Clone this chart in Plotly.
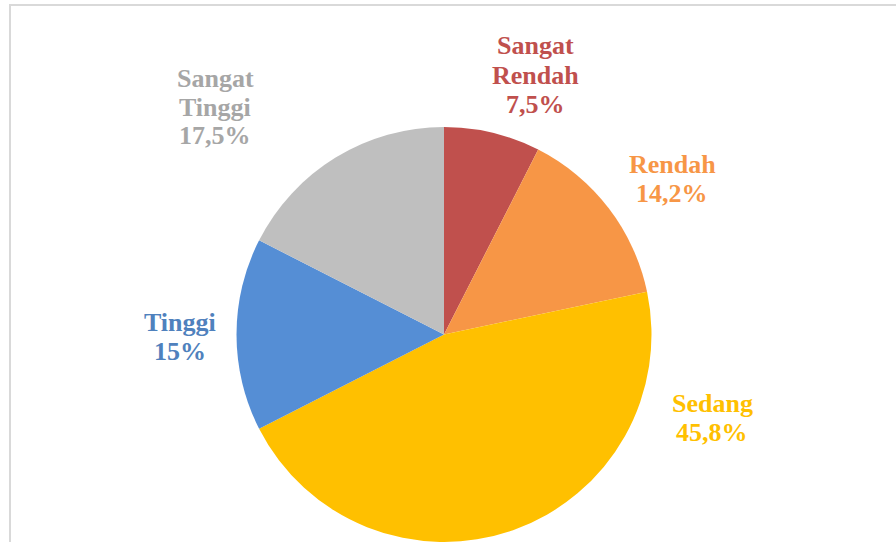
import plotly.graph_objects as go

# Category shares (percent), listed clockwise from 12 o'clock
categories = ["Sangat Rendah", "Rendah", "Sedang", "Tinggi", "Sangat Tinggi"]
shares = [7.5, 14.2, 45.8, 15, 17.5]

slice_colors = ["#C0504D", "#F79646", "#FFC000", "#558ED5", "#BFBFBF"]
label_colors = ["#C0504D", "#F79646", "#FFC000", "#4F81BD", "#A6A6A6"]

W, H = 896, 542
LINE_GAP = 29  # px between label lines

fig = go.Figure(
    go.Pie(
        labels=categories,
        values=shares,
        sort=False,
        direction="clockwise",
        rotation=0,
        marker=dict(colors=slice_colors, line=dict(width=0)),
        textinfo="none",
        hoverinfo="label+percent",
        showlegend=False,
        domain=dict(x=[236 / W, 652 / W], y=[0, (H - 127) / H]),
    )
)

# Label block centres in pixels (x, y from top)
label_pos = [(535, 75), (672, 179), (712, 418), (180, 337), (215, 107)]


def fmt(v):
    return f"{v:g}".replace(".", ",") + "%"


for name, val, col, (px, py) in zip(categories, shares, label_colors, label_pos):
    lines = name.split(" ") + [fmt(val)]
    n = len(lines)
    for i, line in enumerate(lines):
        ly = py + (i - (n - 1) / 2) * LINE_GAP
        fig.add_annotation(
            x=px / W,
            y=1 - ly / H,
            xref="paper",
            yref="paper",
            text=f"<b>{line}</b>",
            showarrow=False,
            xanchor="center",
            yanchor="middle",
            font=dict(family="Liberation Serif", size=26, color=col),
        )

# Chart-area frame
fig.add_shape(
    type="rect",
    xref="paper",
    yref="paper",
    x0=10 / W,
    x1=1.02,
    y0=-0.02,
    y1=1 - 5 / H,
    line=dict(color="#D9D9D9", width=2),
    fillcolor="rgba(0,0,0,0)",
    layer="below",
)

fig.update_layout(
    width=W,
    height=H,
    margin=dict(l=0, r=0, t=0, b=0),
    paper_bgcolor="white",
    plot_bgcolor="white",
    font=dict(family="Liberation Serif"),
)

fig.write_html("out.html")
